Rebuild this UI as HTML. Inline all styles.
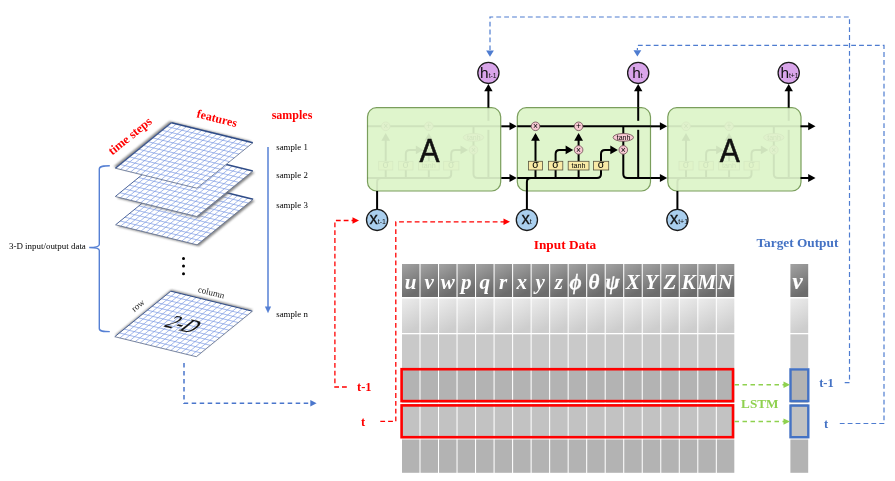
<!DOCTYPE html>
<html><head><meta charset="utf-8"><style>
html,body{margin:0;padding:0;background:#fff;width:895px;height:481px;overflow:hidden}
svg{display:block;will-change:transform}
</style></head><body>
<svg width="895" height="481" viewBox="0 0 895 481">
<defs>
<linearGradient id="hdr" x1="0" y1="0" x2="0.3" y2="1">
 <stop offset="0" stop-color="#a3a3a3"/><stop offset="1" stop-color="#6c6c6c"/></linearGradient>
<linearGradient id="r1" x1="0" y1="0" x2="0.3" y2="1">
 <stop offset="0" stop-color="#ececec"/><stop offset="1" stop-color="#cdcdcd"/></linearGradient>
<filter id="blur1" x="-20%" y="-20%" width="140%" height="140%"><feGaussianBlur stdDeviation="1.2"/></filter>
<g id="lstm">
 <rect x="0" y="0" width="133.2" height="83.3" rx="9" ry="9" fill="#dff5cc" stroke="#7fa35f" stroke-width="1.3"/>
</g>
</defs>
<polygon points="114.80,336.70 196.30,356.70 252.30,311.20 170.80,291.20" fill="#707070" opacity="0.85" filter="url(#blur1)" transform="translate(0.3,-1.5)"/>
<polygon points="114.80,336.70 196.30,356.70 252.30,311.20 170.80,291.20" fill="#ffffff"/>
<path d="M119.89 337.95L175.89 292.45M124.99 339.20L180.99 293.70M130.08 340.45L186.08 294.95M135.18 341.70L191.18 296.20M140.27 342.95L196.27 297.45M145.36 344.20L201.36 298.70M150.46 345.45L206.46 299.95M155.55 346.70L211.55 301.20M160.64 347.95L216.64 302.45M165.74 349.20L221.74 303.70M170.83 350.45L226.83 304.95M175.93 351.70L231.93 306.20M181.02 352.95L237.02 307.45M186.11 354.20L242.11 308.70M191.21 355.45L247.21 309.95M119.47 332.91L200.97 352.91M124.13 329.12L205.63 349.12M128.80 325.32L210.30 345.32M133.47 321.53L214.97 341.53M138.13 317.74L219.63 337.74M142.80 313.95L224.30 333.95M147.47 310.16L228.97 330.16M152.13 306.37L233.63 326.37M156.80 302.57L238.30 322.57M161.47 298.78L242.97 318.78M166.13 294.99L247.63 314.99" stroke="#7b9ae3" stroke-width="0.7" fill="none"/>
<polyline points="114.80,336.70 170.80,291.20" fill="none" stroke="#3a5590" stroke-width="0.9"/>
<polyline points="170.80,291.20 252.30,311.20" fill="none" stroke="#2f4c88" stroke-width="1.0"/>
<polyline points="252.30,311.20 196.30,356.70 114.80,336.70" fill="none" stroke="#5a6a8a" stroke-width="0.8"/>
<polygon points="115.60,224.80 197.10,244.80 253.10,199.30 171.60,179.30" fill="#707070" opacity="0.85" filter="url(#blur1)" transform="translate(1.8,1.4)"/>
<polygon points="115.60,224.80 197.10,244.80 253.10,199.30 171.60,179.30" fill="#ffffff"/>
<path d="M120.69 226.05L176.69 180.55M125.79 227.30L181.79 181.80M130.88 228.55L186.88 183.05M135.97 229.80L191.97 184.30M141.07 231.05L197.07 185.55M146.16 232.30L202.16 186.80M151.26 233.55L207.26 188.05M156.35 234.80L212.35 189.30M161.44 236.05L217.44 190.55M166.54 237.30L222.54 191.80M171.63 238.55L227.63 193.05M176.72 239.80L232.72 194.30M181.82 241.05L237.82 195.55M186.91 242.30L242.91 196.80M192.01 243.55L248.01 198.05M120.27 221.01L201.77 241.01M124.93 217.22L206.43 237.22M129.60 213.43L211.10 233.43M134.27 209.63L215.77 229.63M138.93 205.84L220.43 225.84M143.60 202.05L225.10 222.05M148.27 198.26L229.77 218.26M152.93 194.47L234.43 214.47M157.60 190.68L239.10 210.68M162.27 186.88L243.77 206.88M166.93 183.09L248.43 203.09" stroke="#7b9ae3" stroke-width="0.7" fill="none"/>
<polyline points="115.60,224.80 171.60,179.30" fill="none" stroke="#3a5590" stroke-width="0.9"/>
<polyline points="171.60,179.30 253.10,199.30" fill="none" stroke="#2f4c88" stroke-width="1.4"/>
<polyline points="253.10,199.30 197.10,244.80 115.60,224.80" fill="none" stroke="#5a6a8a" stroke-width="0.8"/>
<polygon points="115.30,196.50 196.80,216.50 252.80,171.00 171.30,151.00" fill="#707070" opacity="0.85" filter="url(#blur1)" transform="translate(1.8,1.4)"/>
<polygon points="115.30,196.50 196.80,216.50 252.80,171.00 171.30,151.00" fill="#ffffff"/>
<path d="M120.39 197.75L176.39 152.25M125.49 199.00L181.49 153.50M130.58 200.25L186.58 154.75M135.68 201.50L191.68 156.00M140.77 202.75L196.77 157.25M145.86 204.00L201.86 158.50M150.96 205.25L206.96 159.75M156.05 206.50L212.05 161.00M161.14 207.75L217.14 162.25M166.24 209.00L222.24 163.50M171.33 210.25L227.33 164.75M176.43 211.50L232.43 166.00M181.52 212.75L237.52 167.25M186.61 214.00L242.61 168.50M191.71 215.25L247.71 169.75M119.97 192.71L201.47 212.71M124.63 188.92L206.13 208.92M129.30 185.12L210.80 205.12M133.97 181.33L215.47 201.33M138.63 177.54L220.13 197.54M143.30 173.75L224.80 193.75M147.97 169.96L229.47 189.96M152.63 166.17L234.13 186.17M157.30 162.38L238.80 182.38M161.97 158.58L243.47 178.58M166.63 154.79L248.13 174.79" stroke="#7b9ae3" stroke-width="0.7" fill="none"/>
<polyline points="115.30,196.50 171.30,151.00" fill="none" stroke="#3a5590" stroke-width="0.9"/>
<polyline points="171.30,151.00 252.80,171.00" fill="none" stroke="#2f4c88" stroke-width="1.4"/>
<polyline points="252.80,171.00 196.80,216.50 115.30,196.50" fill="none" stroke="#5a6a8a" stroke-width="0.8"/>
<polygon points="115.40,168.20 196.90,188.20 252.90,142.70 171.40,122.70" fill="#707070" opacity="0.85" filter="url(#blur1)" transform="translate(-1.8,-1.4)"/>
<polygon points="115.40,168.20 196.90,188.20 252.90,142.70 171.40,122.70" fill="#ffffff"/>
<path d="M120.49 169.45L176.49 123.95M125.59 170.70L181.59 125.20M130.68 171.95L186.68 126.45M135.78 173.20L191.78 127.70M140.87 174.45L196.87 128.95M145.96 175.70L201.96 130.20M151.06 176.95L207.06 131.45M156.15 178.20L212.15 132.70M161.24 179.45L217.24 133.95M166.34 180.70L222.34 135.20M171.43 181.95L227.43 136.45M176.53 183.20L232.53 137.70M181.62 184.45L237.62 138.95M186.71 185.70L242.71 140.20M191.81 186.95L247.81 141.45M120.07 164.41L201.57 184.41M124.73 160.62L206.23 180.62M129.40 156.82L210.90 176.82M134.07 153.03L215.57 173.03M138.73 149.24L220.23 169.24M143.40 145.45L224.90 165.45M148.07 141.66L229.57 161.66M152.73 137.87L234.23 157.87M157.40 134.07L238.90 154.07M162.07 130.28L243.57 150.28M166.73 126.49L248.23 146.49" stroke="#7b9ae3" stroke-width="0.7" fill="none"/>
<polyline points="115.40,168.20 171.40,122.70" fill="none" stroke="#3a5590" stroke-width="1.2"/>
<polyline points="171.40,122.70 252.90,142.70" fill="none" stroke="#2f4c88" stroke-width="1.4"/>
<polyline points="252.90,142.70 196.90,188.20 115.40,168.20" fill="none" stroke="#5a6a8a" stroke-width="0.8"/>
<circle cx="183.5" cy="258.5" r="1.5" fill="#000"/>
<circle cx="183.5" cy="266.0" r="1.5" fill="#000"/>
<circle cx="183.5" cy="273.7" r="1.5" fill="#000"/>
<text transform="matrix(0.796 0.195 -0.869 0.707 162.80 326.20)" font-family='"Liberation Serif", serif' font-size="23" fill="#111" stroke="#111" stroke-width="0.2">2-D</text>
<text transform="translate(138,305.4) rotate(-40)" text-anchor="middle" dominant-baseline="central" font-family='"Liberation Serif", serif' font-size="9" fill="#222">row</text>
<text transform="translate(211.2,292.4) rotate(14)" text-anchor="middle" dominant-baseline="central" font-family='"Liberation Serif", serif' font-size="9" fill="#222">column</text>
<text transform="translate(130,136) rotate(-39)" text-anchor="middle" dominant-baseline="central" font-family='"Liberation Serif", serif' font-weight="bold" font-size="12.3" fill="#ff0000">time steps</text>
<text transform="translate(217,118.4) rotate(14)" text-anchor="middle" dominant-baseline="central" font-family='"Liberation Serif", serif' font-weight="bold" font-size="12" fill="#ff0000">features</text>
<text x="292" y="118.5" text-anchor="middle" font-family='"Liberation Serif", serif' font-weight="bold" font-size="12" fill="#ff0000">samples</text>
<text x="276.3" y="150.3" font-family='"Liberation Serif", serif' font-size="8.8" fill="#000">sample 1</text>
<text x="276.3" y="178.0" font-family='"Liberation Serif", serif' font-size="8.8" fill="#000">sample 2</text>
<text x="276.3" y="208.0" font-family='"Liberation Serif", serif' font-size="8.8" fill="#000">sample 3</text>
<text x="276.3" y="316.8" font-family='"Liberation Serif", serif' font-size="8.8" fill="#000">sample n</text>
<text x="9" y="248.6" font-family='"Liberation Serif", serif' font-size="8.93" fill="#000">3-D input/output data</text>
<path d="M268 147 L268 307" stroke="#5680d4" stroke-width="1.5" fill="none"/>
<polygon points="264.9,306.5 271.1,306.5 268,313.2" fill="#5680d4"/>
<path d="M109.8 165.8 C104 165.8 99.3 165.8 99.3 169 L99.3 244.5 C99.3 247 95 247.5 89.2 247.5 C95 247.5 99.3 248 99.3 250.5 L99.3 328.5 C99.3 331.6 104 331.6 109.8 331.6" stroke="#5680d4" stroke-width="1.4" fill="none"/>
<path d="M184 363 L184 403.3 L310.5 403.3" stroke="#4a76cc" stroke-width="1.5" fill="none" stroke-dasharray="4.5 3.5"/>
<polygon points="310.3,400.1 310.3,406.5 316.6,403.3" fill="#4a76cc"/>
<rect x="367.50" y="107.70" width="133.2" height="83.3" rx="9" ry="9" fill="#dff5cc" stroke="#7a9e5c" stroke-width="1.2"/>
<g opacity="0.07">
<path d="M367.50 178.00 L447.20 178.00 Q451.20 178.00 451.20 174.00 L451.20 170.00" stroke="#000" stroke-width="2.0" fill="none"/>
<path d="M377.10 191.00 L377.10 182.00 Q377.10 178.00 381.10 178.00" stroke="#000" stroke-width="2.0" fill="none"/>
<path d="M385.70 178.00 L385.70 170.00" stroke="#000" stroke-width="2.0" fill="none"/>
<path d="M405.80 178.00 L405.80 170.00" stroke="#000" stroke-width="2.0" fill="none"/>
<path d="M428.80 178.00 L428.80 170.00" stroke="#000" stroke-width="2.0" fill="none"/>
<path d="M385.70 161.30 L385.70 135.30" stroke="#000" stroke-width="2.0" fill="none"/>
<polygon points="385.70,133.10 381.30,140.70 390.10,140.70" fill="#000"/>
<path d="M405.80 161.30 L405.80 153.90 Q405.80 149.90 409.80 149.90 L418.80 149.90" stroke="#000" stroke-width="2.0" fill="none"/>
<polygon points="423.40,149.90 415.80,145.50 415.80,154.30" fill="#000"/>
<path d="M428.80 161.30 L428.80 149.90" stroke="#000" stroke-width="2.0" fill="none"/>
<path d="M428.80 149.90 L428.80 135.30" stroke="#000" stroke-width="2.0" fill="none"/>
<polygon points="428.80,133.10 424.40,140.70 433.20,140.70" fill="#000"/>
<path d="M451.20 161.30 L451.20 153.90 Q451.20 149.90 455.20 149.90 L463.50 149.90" stroke="#000" stroke-width="2.0" fill="none"/>
<polygon points="468.10,149.90 460.50,145.50 460.50,154.30" fill="#000"/>
<path d="M473.50 126.30 L473.50 149.90" stroke="#000" stroke-width="2.0" fill="none"/>
<path d="M473.50 149.90 L473.50 174.00 Q473.50 178.00 477.50 178.00 L500.70 178.00" stroke="#000" stroke-width="2.0" fill="none"/>
<path d="M488.40 178.00 L488.40 129.80" stroke="#000" stroke-width="2.0" fill="none"/>
<path d="M488.40 120.80 L488.40 107.70" stroke="#000" stroke-width="2.0" fill="none"/>
<path d="M367.50 126.30 L500.70 126.30" stroke="#000" stroke-width="2.0" fill="none"/>
<rect x="378.70" y="161.30" width="14.10" height="8.70" fill="#f9eaa6" stroke="#5a5540" stroke-width="0.8"/>
<text x="385.75" y="168.10" text-anchor="middle" font-family='"Liberation Sans", sans-serif' font-size="10.5" fill="#000">σ</text>
<rect x="398.60" y="161.30" width="14.40" height="8.70" fill="#f9eaa6" stroke="#5a5540" stroke-width="0.8"/>
<text x="405.80" y="168.10" text-anchor="middle" font-family='"Liberation Sans", sans-serif' font-size="10.5" fill="#000">σ</text>
<rect x="418.40" y="161.30" width="20.80" height="8.70" fill="#f9eaa6" stroke="#5a5540" stroke-width="0.8"/>
<text x="428.80" y="168.10" text-anchor="middle" font-family='"Liberation Sans", sans-serif' font-size="7.2" fill="#000">tanh</text>
<rect x="443.70" y="161.30" width="15.20" height="8.70" fill="#f9eaa6" stroke="#5a5540" stroke-width="0.8"/>
<text x="451.30" y="168.10" text-anchor="middle" font-family='"Liberation Sans", sans-serif' font-size="10.5" fill="#000">σ</text>
<circle cx="385.70" cy="126.30" r="4.3" fill="#f7c9d3" stroke="#6a4a50" stroke-width="0.8"/>
<text x="385.70" y="129.30" text-anchor="middle" font-family='"Liberation Sans", sans-serif' font-size="8.5" fill="#000">×</text>
<circle cx="428.80" cy="126.30" r="4.3" fill="#f7c9d3" stroke="#6a4a50" stroke-width="0.8"/>
<text x="428.80" y="129.30" text-anchor="middle" font-family='"Liberation Sans", sans-serif' font-size="8.5" fill="#000">+</text>
<circle cx="428.80" cy="149.90" r="4.3" fill="#f7c9d3" stroke="#6a4a50" stroke-width="0.8"/>
<text x="428.80" y="152.90" text-anchor="middle" font-family='"Liberation Sans", sans-serif' font-size="8.5" fill="#000">×</text>
<circle cx="473.50" cy="149.90" r="4.3" fill="#f7c9d3" stroke="#6a4a50" stroke-width="0.8"/>
<text x="473.50" y="152.90" text-anchor="middle" font-family='"Liberation Sans", sans-serif' font-size="8.5" fill="#000">×</text>
<ellipse cx="473.50" cy="137.40" rx="10.2" ry="3.9" fill="#f7c9d3" stroke="#6a4a50" stroke-width="0.8"/>
<text x="473.80" y="139.80" text-anchor="middle" font-family='"Liberation Sans", sans-serif' font-size="7" fill="#000">tanh</text>
</g>
<text transform="translate(429.50,162) scale(1,1.09)" text-anchor="middle" font-family='"Liberation Sans", sans-serif' font-size="30" fill="#111" stroke="#111" stroke-width="0.5">A</text>
<rect x="517.30" y="107.70" width="133.2" height="83.3" rx="9" ry="9" fill="#dff5cc" stroke="#7a9e5c" stroke-width="1.2"/>
<g opacity="1">
<path d="M517.30 178.00 L597.00 178.00 Q601.00 178.00 601.00 174.00 L601.00 170.00" stroke="#000" stroke-width="2.0" fill="none"/>
<path d="M526.90 191.00 L526.90 182.00 Q526.90 178.00 530.90 178.00" stroke="#000" stroke-width="2.0" fill="none"/>
<path d="M535.50 178.00 L535.50 170.00" stroke="#000" stroke-width="2.0" fill="none"/>
<path d="M555.60 178.00 L555.60 170.00" stroke="#000" stroke-width="2.0" fill="none"/>
<path d="M578.60 178.00 L578.60 170.00" stroke="#000" stroke-width="2.0" fill="none"/>
<path d="M535.50 161.30 L535.50 135.30" stroke="#000" stroke-width="2.0" fill="none"/>
<polygon points="535.50,133.10 531.10,140.70 539.90,140.70" fill="#000"/>
<path d="M555.60 161.30 L555.60 153.90 Q555.60 149.90 559.60 149.90 L568.60 149.90" stroke="#000" stroke-width="2.0" fill="none"/>
<polygon points="573.20,149.90 565.60,145.50 565.60,154.30" fill="#000"/>
<path d="M578.60 161.30 L578.60 149.90" stroke="#000" stroke-width="2.0" fill="none"/>
<path d="M578.60 149.90 L578.60 135.30" stroke="#000" stroke-width="2.0" fill="none"/>
<polygon points="578.60,133.10 574.20,140.70 583.00,140.70" fill="#000"/>
<path d="M601.00 161.30 L601.00 153.90 Q601.00 149.90 605.00 149.90 L613.30 149.90" stroke="#000" stroke-width="2.0" fill="none"/>
<polygon points="617.90,149.90 610.30,145.50 610.30,154.30" fill="#000"/>
<path d="M623.30 126.30 L623.30 149.90" stroke="#000" stroke-width="2.0" fill="none"/>
<path d="M623.30 149.90 L623.30 174.00 Q623.30 178.00 627.30 178.00 L650.50 178.00" stroke="#000" stroke-width="2.0" fill="none"/>
<path d="M638.20 178.00 L638.20 129.80" stroke="#000" stroke-width="2.0" fill="none"/>
<path d="M638.20 120.80 L638.20 107.70" stroke="#000" stroke-width="2.0" fill="none"/>
<path d="M517.30 126.30 L650.50 126.30" stroke="#000" stroke-width="2.0" fill="none"/>
<rect x="528.50" y="161.30" width="14.10" height="8.70" fill="#f9eaa6" stroke="#5a5540" stroke-width="0.8"/>
<text x="535.55" y="168.10" text-anchor="middle" font-family='"Liberation Sans", sans-serif' font-size="10.5" fill="#000">σ</text>
<rect x="548.40" y="161.30" width="14.40" height="8.70" fill="#f9eaa6" stroke="#5a5540" stroke-width="0.8"/>
<text x="555.60" y="168.10" text-anchor="middle" font-family='"Liberation Sans", sans-serif' font-size="10.5" fill="#000">σ</text>
<rect x="568.20" y="161.30" width="20.80" height="8.70" fill="#f9eaa6" stroke="#5a5540" stroke-width="0.8"/>
<text x="578.60" y="168.10" text-anchor="middle" font-family='"Liberation Sans", sans-serif' font-size="7.2" fill="#000">tanh</text>
<rect x="593.50" y="161.30" width="15.20" height="8.70" fill="#f9eaa6" stroke="#5a5540" stroke-width="0.8"/>
<text x="601.10" y="168.10" text-anchor="middle" font-family='"Liberation Sans", sans-serif' font-size="10.5" fill="#000">σ</text>
<circle cx="535.50" cy="126.30" r="4.3" fill="#f7c9d3" stroke="#6a4a50" stroke-width="0.8"/>
<text x="535.50" y="129.30" text-anchor="middle" font-family='"Liberation Sans", sans-serif' font-size="8.5" fill="#000">×</text>
<circle cx="578.60" cy="126.30" r="4.3" fill="#f7c9d3" stroke="#6a4a50" stroke-width="0.8"/>
<text x="578.60" y="129.30" text-anchor="middle" font-family='"Liberation Sans", sans-serif' font-size="8.5" fill="#000">+</text>
<circle cx="578.60" cy="149.90" r="4.3" fill="#f7c9d3" stroke="#6a4a50" stroke-width="0.8"/>
<text x="578.60" y="152.90" text-anchor="middle" font-family='"Liberation Sans", sans-serif' font-size="8.5" fill="#000">×</text>
<circle cx="623.30" cy="149.90" r="4.3" fill="#f7c9d3" stroke="#6a4a50" stroke-width="0.8"/>
<text x="623.30" y="152.90" text-anchor="middle" font-family='"Liberation Sans", sans-serif' font-size="8.5" fill="#000">×</text>
<ellipse cx="623.30" cy="137.40" rx="10.2" ry="3.9" fill="#f7c9d3" stroke="#6a4a50" stroke-width="0.8"/>
<text x="623.60" y="139.80" text-anchor="middle" font-family='"Liberation Sans", sans-serif' font-size="7" fill="#000">tanh</text>
</g>
<rect x="667.80" y="107.70" width="133.2" height="83.3" rx="9" ry="9" fill="#dff5cc" stroke="#7a9e5c" stroke-width="1.2"/>
<g opacity="0.07">
<path d="M667.80 178.00 L747.50 178.00 Q751.50 178.00 751.50 174.00 L751.50 170.00" stroke="#000" stroke-width="2.0" fill="none"/>
<path d="M677.40 191.00 L677.40 182.00 Q677.40 178.00 681.40 178.00" stroke="#000" stroke-width="2.0" fill="none"/>
<path d="M686.00 178.00 L686.00 170.00" stroke="#000" stroke-width="2.0" fill="none"/>
<path d="M706.10 178.00 L706.10 170.00" stroke="#000" stroke-width="2.0" fill="none"/>
<path d="M729.10 178.00 L729.10 170.00" stroke="#000" stroke-width="2.0" fill="none"/>
<path d="M686.00 161.30 L686.00 135.30" stroke="#000" stroke-width="2.0" fill="none"/>
<polygon points="686.00,133.10 681.60,140.70 690.40,140.70" fill="#000"/>
<path d="M706.10 161.30 L706.10 153.90 Q706.10 149.90 710.10 149.90 L719.10 149.90" stroke="#000" stroke-width="2.0" fill="none"/>
<polygon points="723.70,149.90 716.10,145.50 716.10,154.30" fill="#000"/>
<path d="M729.10 161.30 L729.10 149.90" stroke="#000" stroke-width="2.0" fill="none"/>
<path d="M729.10 149.90 L729.10 135.30" stroke="#000" stroke-width="2.0" fill="none"/>
<polygon points="729.10,133.10 724.70,140.70 733.50,140.70" fill="#000"/>
<path d="M751.50 161.30 L751.50 153.90 Q751.50 149.90 755.50 149.90 L763.80 149.90" stroke="#000" stroke-width="2.0" fill="none"/>
<polygon points="768.40,149.90 760.80,145.50 760.80,154.30" fill="#000"/>
<path d="M773.80 126.30 L773.80 149.90" stroke="#000" stroke-width="2.0" fill="none"/>
<path d="M773.80 149.90 L773.80 174.00 Q773.80 178.00 777.80 178.00 L801.00 178.00" stroke="#000" stroke-width="2.0" fill="none"/>
<path d="M788.70 178.00 L788.70 129.80" stroke="#000" stroke-width="2.0" fill="none"/>
<path d="M788.70 120.80 L788.70 107.70" stroke="#000" stroke-width="2.0" fill="none"/>
<path d="M667.80 126.30 L801.00 126.30" stroke="#000" stroke-width="2.0" fill="none"/>
<rect x="679.00" y="161.30" width="14.10" height="8.70" fill="#f9eaa6" stroke="#5a5540" stroke-width="0.8"/>
<text x="686.05" y="168.10" text-anchor="middle" font-family='"Liberation Sans", sans-serif' font-size="10.5" fill="#000">σ</text>
<rect x="698.90" y="161.30" width="14.40" height="8.70" fill="#f9eaa6" stroke="#5a5540" stroke-width="0.8"/>
<text x="706.10" y="168.10" text-anchor="middle" font-family='"Liberation Sans", sans-serif' font-size="10.5" fill="#000">σ</text>
<rect x="718.70" y="161.30" width="20.80" height="8.70" fill="#f9eaa6" stroke="#5a5540" stroke-width="0.8"/>
<text x="729.10" y="168.10" text-anchor="middle" font-family='"Liberation Sans", sans-serif' font-size="7.2" fill="#000">tanh</text>
<rect x="744.00" y="161.30" width="15.20" height="8.70" fill="#f9eaa6" stroke="#5a5540" stroke-width="0.8"/>
<text x="751.60" y="168.10" text-anchor="middle" font-family='"Liberation Sans", sans-serif' font-size="10.5" fill="#000">σ</text>
<circle cx="686.00" cy="126.30" r="4.3" fill="#f7c9d3" stroke="#6a4a50" stroke-width="0.8"/>
<text x="686.00" y="129.30" text-anchor="middle" font-family='"Liberation Sans", sans-serif' font-size="8.5" fill="#000">×</text>
<circle cx="729.10" cy="126.30" r="4.3" fill="#f7c9d3" stroke="#6a4a50" stroke-width="0.8"/>
<text x="729.10" y="129.30" text-anchor="middle" font-family='"Liberation Sans", sans-serif' font-size="8.5" fill="#000">+</text>
<circle cx="729.10" cy="149.90" r="4.3" fill="#f7c9d3" stroke="#6a4a50" stroke-width="0.8"/>
<text x="729.10" y="152.90" text-anchor="middle" font-family='"Liberation Sans", sans-serif' font-size="8.5" fill="#000">×</text>
<circle cx="773.80" cy="149.90" r="4.3" fill="#f7c9d3" stroke="#6a4a50" stroke-width="0.8"/>
<text x="773.80" y="152.90" text-anchor="middle" font-family='"Liberation Sans", sans-serif' font-size="8.5" fill="#000">×</text>
<ellipse cx="773.80" cy="137.40" rx="10.2" ry="3.9" fill="#f7c9d3" stroke="#6a4a50" stroke-width="0.8"/>
<text x="774.10" y="139.80" text-anchor="middle" font-family='"Liberation Sans", sans-serif' font-size="7" fill="#000">tanh</text>
</g>
<text transform="translate(729.80,162) scale(1,1.09)" text-anchor="middle" font-family='"Liberation Sans", sans-serif' font-size="30" fill="#111" stroke="#111" stroke-width="0.5">A</text>
<path d="M501.30 126.30 L511.80 126.30" stroke="#000" stroke-width="2" fill="none"/>
<polygon points="516.80,126.30 509.50,122.30 509.50,130.30" fill="#000"/>
<path d="M501.30 178.00 L511.80 178.00" stroke="#000" stroke-width="2" fill="none"/>
<polygon points="516.80,178.00 509.50,174.00 509.50,182.00" fill="#000"/>
<path d="M650.50 126.30 L662.20 126.30" stroke="#000" stroke-width="2" fill="none"/>
<polygon points="667.20,126.30 659.90,122.30 659.90,130.30" fill="#000"/>
<path d="M650.50 178.00 L662.20 178.00" stroke="#000" stroke-width="2" fill="none"/>
<polygon points="667.20,178.00 659.90,174.00 659.90,182.00" fill="#000"/>
<path d="M800.50 126.30 L810.50 126.30" stroke="#000" stroke-width="2" fill="none"/>
<polygon points="815.50,126.30 808.20,122.30 808.20,130.30" fill="#000"/>
<path d="M800.50 178.00 L810.50 178.00" stroke="#000" stroke-width="2" fill="none"/>
<polygon points="815.50,178.00 808.20,174.00 808.20,182.00" fill="#000"/>
<path d="M488.40 107.70 L488.40 89.00" stroke="#000" stroke-width="2" fill="none"/>
<polygon points="488.40,84.00 484.20,91.30 492.60,91.30" fill="#000"/>
<path d="M377.10 191 L377.10 209.5" stroke="#000" stroke-width="2"/>
<path d="M638.20 107.70 L638.20 89.00" stroke="#000" stroke-width="2" fill="none"/>
<polygon points="638.20,84.00 634.00,91.30 642.40,91.30" fill="#000"/>
<path d="M526.90 191 L526.90 209.5" stroke="#000" stroke-width="2"/>
<path d="M788.70 107.70 L788.70 89.00" stroke="#000" stroke-width="2" fill="none"/>
<polygon points="788.70,84.00 784.50,91.30 792.90,91.30" fill="#000"/>
<path d="M677.40 191 L677.40 209.5" stroke="#000" stroke-width="2"/>
<circle cx="488.40" cy="72.9" r="10.6" fill="#d9a5ea" stroke="#1a1a1a" stroke-width="1.3"/>
<text x="480.10" y="78.2" font-family='"Liberation Sans", sans-serif' font-size="15.4" fill="#111">h<tspan font-size="6.8" dy="0">t-1</tspan></text>
<circle cx="377.10" cy="219.9" r="10.6" fill="#aacfee" stroke="#1a1a1a" stroke-width="1.3"/>
<text x="369.60" y="224.3" font-family='"Liberation Sans", sans-serif' font-size="16.5" fill="#111" stroke="#111" stroke-width="0.3">x<tspan stroke-width="0" font-size="7" dy="0">t-1</tspan></text>
<circle cx="638.20" cy="72.9" r="10.6" fill="#d9a5ea" stroke="#1a1a1a" stroke-width="1.3"/>
<text x="632.20" y="78.2" font-family='"Liberation Sans", sans-serif' font-size="15.4" fill="#111">h<tspan font-size="6.8" dy="0">t</tspan></text>
<circle cx="526.90" cy="219.9" r="10.6" fill="#aacfee" stroke="#1a1a1a" stroke-width="1.3"/>
<text x="521.40" y="224.3" font-family='"Liberation Sans", sans-serif' font-size="16.5" fill="#111" stroke="#111" stroke-width="0.3">x<tspan stroke-width="0" font-size="7" dy="0">t</tspan></text>
<circle cx="788.70" cy="72.9" r="10.6" fill="#d9a5ea" stroke="#1a1a1a" stroke-width="1.3"/>
<text x="780.40" y="78.2" font-family='"Liberation Sans", sans-serif' font-size="15.4" fill="#111">h<tspan font-size="6.8" dy="0">t+1</tspan></text>
<circle cx="677.40" cy="219.9" r="10.6" fill="#aacfee" stroke="#1a1a1a" stroke-width="1.3"/>
<text x="669.90" y="224.3" font-family='"Liberation Sans", sans-serif' font-size="16.5" fill="#111" stroke="#111" stroke-width="0.3">x<tspan stroke-width="0" font-size="7" dy="0">t+1</tspan></text>
<rect x="402.00" y="264.00" width="17.47" height="33.00" fill="url(#hdr)"/>
<rect x="420.52" y="264.00" width="17.47" height="33.00" fill="url(#hdr)"/>
<rect x="439.04" y="264.00" width="17.47" height="33.00" fill="url(#hdr)"/>
<rect x="457.56" y="264.00" width="17.47" height="33.00" fill="url(#hdr)"/>
<rect x="476.08" y="264.00" width="17.47" height="33.00" fill="url(#hdr)"/>
<rect x="494.60" y="264.00" width="17.47" height="33.00" fill="url(#hdr)"/>
<rect x="513.12" y="264.00" width="17.47" height="33.00" fill="url(#hdr)"/>
<rect x="531.64" y="264.00" width="17.47" height="33.00" fill="url(#hdr)"/>
<rect x="550.16" y="264.00" width="17.47" height="33.00" fill="url(#hdr)"/>
<rect x="568.68" y="264.00" width="17.47" height="33.00" fill="url(#hdr)"/>
<rect x="587.20" y="264.00" width="17.47" height="33.00" fill="url(#hdr)"/>
<rect x="605.72" y="264.00" width="17.47" height="33.00" fill="url(#hdr)"/>
<rect x="624.24" y="264.00" width="17.47" height="33.00" fill="url(#hdr)"/>
<rect x="642.76" y="264.00" width="17.47" height="33.00" fill="url(#hdr)"/>
<rect x="661.28" y="264.00" width="17.47" height="33.00" fill="url(#hdr)"/>
<rect x="679.80" y="264.00" width="17.47" height="33.00" fill="url(#hdr)"/>
<rect x="698.32" y="264.00" width="17.47" height="33.00" fill="url(#hdr)"/>
<rect x="716.84" y="264.00" width="17.47" height="33.00" fill="url(#hdr)"/>
<rect x="402.00" y="298.50" width="17.47" height="34.50" fill="url(#r1)"/>
<rect x="420.52" y="298.50" width="17.47" height="34.50" fill="url(#r1)"/>
<rect x="439.04" y="298.50" width="17.47" height="34.50" fill="url(#r1)"/>
<rect x="457.56" y="298.50" width="17.47" height="34.50" fill="url(#r1)"/>
<rect x="476.08" y="298.50" width="17.47" height="34.50" fill="url(#r1)"/>
<rect x="494.60" y="298.50" width="17.47" height="34.50" fill="url(#r1)"/>
<rect x="513.12" y="298.50" width="17.47" height="34.50" fill="url(#r1)"/>
<rect x="531.64" y="298.50" width="17.47" height="34.50" fill="url(#r1)"/>
<rect x="550.16" y="298.50" width="17.47" height="34.50" fill="url(#r1)"/>
<rect x="568.68" y="298.50" width="17.47" height="34.50" fill="url(#r1)"/>
<rect x="587.20" y="298.50" width="17.47" height="34.50" fill="url(#r1)"/>
<rect x="605.72" y="298.50" width="17.47" height="34.50" fill="url(#r1)"/>
<rect x="624.24" y="298.50" width="17.47" height="34.50" fill="url(#r1)"/>
<rect x="642.76" y="298.50" width="17.47" height="34.50" fill="url(#r1)"/>
<rect x="661.28" y="298.50" width="17.47" height="34.50" fill="url(#r1)"/>
<rect x="679.80" y="298.50" width="17.47" height="34.50" fill="url(#r1)"/>
<rect x="698.32" y="298.50" width="17.47" height="34.50" fill="url(#r1)"/>
<rect x="716.84" y="298.50" width="17.47" height="34.50" fill="url(#r1)"/>
<rect x="402.00" y="334.30" width="17.47" height="34.00" fill="#c9c9c9"/>
<rect x="420.52" y="334.30" width="17.47" height="34.00" fill="#c9c9c9"/>
<rect x="439.04" y="334.30" width="17.47" height="34.00" fill="#c9c9c9"/>
<rect x="457.56" y="334.30" width="17.47" height="34.00" fill="#c9c9c9"/>
<rect x="476.08" y="334.30" width="17.47" height="34.00" fill="#c9c9c9"/>
<rect x="494.60" y="334.30" width="17.47" height="34.00" fill="#c9c9c9"/>
<rect x="513.12" y="334.30" width="17.47" height="34.00" fill="#c9c9c9"/>
<rect x="531.64" y="334.30" width="17.47" height="34.00" fill="#c9c9c9"/>
<rect x="550.16" y="334.30" width="17.47" height="34.00" fill="#c9c9c9"/>
<rect x="568.68" y="334.30" width="17.47" height="34.00" fill="#c9c9c9"/>
<rect x="587.20" y="334.30" width="17.47" height="34.00" fill="#c9c9c9"/>
<rect x="605.72" y="334.30" width="17.47" height="34.00" fill="#c9c9c9"/>
<rect x="624.24" y="334.30" width="17.47" height="34.00" fill="#c9c9c9"/>
<rect x="642.76" y="334.30" width="17.47" height="34.00" fill="#c9c9c9"/>
<rect x="661.28" y="334.30" width="17.47" height="34.00" fill="#c9c9c9"/>
<rect x="679.80" y="334.30" width="17.47" height="34.00" fill="#c9c9c9"/>
<rect x="698.32" y="334.30" width="17.47" height="34.00" fill="#c9c9c9"/>
<rect x="716.84" y="334.30" width="17.47" height="34.00" fill="#c9c9c9"/>
<rect x="402.00" y="369.00" width="17.47" height="33.60" fill="#b3b3b3"/>
<rect x="420.52" y="369.00" width="17.47" height="33.60" fill="#b3b3b3"/>
<rect x="439.04" y="369.00" width="17.47" height="33.60" fill="#b3b3b3"/>
<rect x="457.56" y="369.00" width="17.47" height="33.60" fill="#b3b3b3"/>
<rect x="476.08" y="369.00" width="17.47" height="33.60" fill="#b3b3b3"/>
<rect x="494.60" y="369.00" width="17.47" height="33.60" fill="#b3b3b3"/>
<rect x="513.12" y="369.00" width="17.47" height="33.60" fill="#b3b3b3"/>
<rect x="531.64" y="369.00" width="17.47" height="33.60" fill="#b3b3b3"/>
<rect x="550.16" y="369.00" width="17.47" height="33.60" fill="#b3b3b3"/>
<rect x="568.68" y="369.00" width="17.47" height="33.60" fill="#b3b3b3"/>
<rect x="587.20" y="369.00" width="17.47" height="33.60" fill="#b3b3b3"/>
<rect x="605.72" y="369.00" width="17.47" height="33.60" fill="#b3b3b3"/>
<rect x="624.24" y="369.00" width="17.47" height="33.60" fill="#b3b3b3"/>
<rect x="642.76" y="369.00" width="17.47" height="33.60" fill="#b3b3b3"/>
<rect x="661.28" y="369.00" width="17.47" height="33.60" fill="#b3b3b3"/>
<rect x="679.80" y="369.00" width="17.47" height="33.60" fill="#b3b3b3"/>
<rect x="698.32" y="369.00" width="17.47" height="33.60" fill="#b3b3b3"/>
<rect x="716.84" y="369.00" width="17.47" height="33.60" fill="#b3b3b3"/>
<rect x="402.00" y="404.00" width="17.47" height="34.30" fill="#c2c2c2"/>
<rect x="420.52" y="404.00" width="17.47" height="34.30" fill="#c2c2c2"/>
<rect x="439.04" y="404.00" width="17.47" height="34.30" fill="#c2c2c2"/>
<rect x="457.56" y="404.00" width="17.47" height="34.30" fill="#c2c2c2"/>
<rect x="476.08" y="404.00" width="17.47" height="34.30" fill="#c2c2c2"/>
<rect x="494.60" y="404.00" width="17.47" height="34.30" fill="#c2c2c2"/>
<rect x="513.12" y="404.00" width="17.47" height="34.30" fill="#c2c2c2"/>
<rect x="531.64" y="404.00" width="17.47" height="34.30" fill="#c2c2c2"/>
<rect x="550.16" y="404.00" width="17.47" height="34.30" fill="#c2c2c2"/>
<rect x="568.68" y="404.00" width="17.47" height="34.30" fill="#c2c2c2"/>
<rect x="587.20" y="404.00" width="17.47" height="34.30" fill="#c2c2c2"/>
<rect x="605.72" y="404.00" width="17.47" height="34.30" fill="#c2c2c2"/>
<rect x="624.24" y="404.00" width="17.47" height="34.30" fill="#c2c2c2"/>
<rect x="642.76" y="404.00" width="17.47" height="34.30" fill="#c2c2c2"/>
<rect x="661.28" y="404.00" width="17.47" height="34.30" fill="#c2c2c2"/>
<rect x="679.80" y="404.00" width="17.47" height="34.30" fill="#c2c2c2"/>
<rect x="698.32" y="404.00" width="17.47" height="34.30" fill="#c2c2c2"/>
<rect x="716.84" y="404.00" width="17.47" height="34.30" fill="#c2c2c2"/>
<rect x="402.00" y="439.50" width="17.47" height="33.30" fill="#b3b3b3"/>
<rect x="420.52" y="439.50" width="17.47" height="33.30" fill="#b3b3b3"/>
<rect x="439.04" y="439.50" width="17.47" height="33.30" fill="#b3b3b3"/>
<rect x="457.56" y="439.50" width="17.47" height="33.30" fill="#b3b3b3"/>
<rect x="476.08" y="439.50" width="17.47" height="33.30" fill="#b3b3b3"/>
<rect x="494.60" y="439.50" width="17.47" height="33.30" fill="#b3b3b3"/>
<rect x="513.12" y="439.50" width="17.47" height="33.30" fill="#b3b3b3"/>
<rect x="531.64" y="439.50" width="17.47" height="33.30" fill="#b3b3b3"/>
<rect x="550.16" y="439.50" width="17.47" height="33.30" fill="#b3b3b3"/>
<rect x="568.68" y="439.50" width="17.47" height="33.30" fill="#b3b3b3"/>
<rect x="587.20" y="439.50" width="17.47" height="33.30" fill="#b3b3b3"/>
<rect x="605.72" y="439.50" width="17.47" height="33.30" fill="#b3b3b3"/>
<rect x="624.24" y="439.50" width="17.47" height="33.30" fill="#b3b3b3"/>
<rect x="642.76" y="439.50" width="17.47" height="33.30" fill="#b3b3b3"/>
<rect x="661.28" y="439.50" width="17.47" height="33.30" fill="#b3b3b3"/>
<rect x="679.80" y="439.50" width="17.47" height="33.30" fill="#b3b3b3"/>
<rect x="698.32" y="439.50" width="17.47" height="33.30" fill="#b3b3b3"/>
<rect x="716.84" y="439.50" width="17.47" height="33.30" fill="#b3b3b3"/>
<text x="410.61" y="288.8" text-anchor="middle" font-family='"Liberation Serif", serif' font-weight="bold" font-style="italic" font-size="21" fill="#fff">u</text>
<text x="429.13" y="288.8" text-anchor="middle" font-family='"Liberation Serif", serif' font-weight="bold" font-style="italic" font-size="21" fill="#fff">v</text>
<text x="447.65" y="288.8" text-anchor="middle" font-family='"Liberation Serif", serif' font-weight="bold" font-style="italic" font-size="21" fill="#fff">w</text>
<text x="466.17" y="288.8" text-anchor="middle" font-family='"Liberation Serif", serif' font-weight="bold" font-style="italic" font-size="21" fill="#fff">p</text>
<text x="484.69" y="288.8" text-anchor="middle" font-family='"Liberation Serif", serif' font-weight="bold" font-style="italic" font-size="21" fill="#fff">q</text>
<text x="503.21" y="288.8" text-anchor="middle" font-family='"Liberation Serif", serif' font-weight="bold" font-style="italic" font-size="21" fill="#fff">r</text>
<text x="521.73" y="288.8" text-anchor="middle" font-family='"Liberation Serif", serif' font-weight="bold" font-style="italic" font-size="21" fill="#fff">x</text>
<text x="540.25" y="288.8" text-anchor="middle" font-family='"Liberation Serif", serif' font-weight="bold" font-style="italic" font-size="21" fill="#fff">y</text>
<text x="558.77" y="288.8" text-anchor="middle" font-family='"Liberation Serif", serif' font-weight="bold" font-style="italic" font-size="21" fill="#fff">z</text>
<text x="575.49" y="288.8" text-anchor="middle" font-family='"Liberation Serif", serif' font-weight="bold" font-style="italic" font-size="21" fill="#fff" stroke="#fff" stroke-width="0.3">ϕ</text>
<text x="594.01" y="288.8" text-anchor="middle" font-family='"Liberation Serif", serif' font-weight="bold" font-style="italic" font-size="21" fill="#fff" stroke="#fff" stroke-width="0.3">θ</text>
<text x="612.53" y="288.8" text-anchor="middle" font-family='"Liberation Serif", serif' font-weight="bold" font-style="italic" font-size="21" fill="#fff" stroke="#fff" stroke-width="0.3">ψ</text>
<text x="632.85" y="288.8" text-anchor="middle" font-family='"Liberation Serif", serif' font-weight="bold" font-style="italic" font-size="21" fill="#fff">X</text>
<text x="651.37" y="288.8" text-anchor="middle" font-family='"Liberation Serif", serif' font-weight="bold" font-style="italic" font-size="21" fill="#fff">Y</text>
<text x="669.89" y="288.8" text-anchor="middle" font-family='"Liberation Serif", serif' font-weight="bold" font-style="italic" font-size="21" fill="#fff">Z</text>
<text x="688.41" y="288.8" text-anchor="middle" font-family='"Liberation Serif", serif' font-weight="bold" font-style="italic" font-size="21" fill="#fff">K</text>
<text x="706.93" y="288.8" text-anchor="middle" font-family='"Liberation Serif", serif' font-weight="bold" font-style="italic" font-size="21" fill="#fff">M</text>
<text x="725.45" y="288.8" text-anchor="middle" font-family='"Liberation Serif", serif' font-weight="bold" font-style="italic" font-size="21" fill="#fff">N</text>
<rect x="790.40" y="264.00" width="17.8" height="33.00" fill="url(#hdr)"/>
<rect x="790.40" y="298.50" width="17.8" height="34.50" fill="url(#r1)"/>
<rect x="790.40" y="334.30" width="17.8" height="34.00" fill="#c9c9c9"/>
<rect x="790.40" y="369.00" width="17.8" height="33.60" fill="#b3b3b3"/>
<rect x="790.40" y="404.00" width="17.8" height="34.30" fill="#c2c2c2"/>
<rect x="790.40" y="439.50" width="17.8" height="33.30" fill="#b3b3b3"/>
<text x="797.60" y="288.8" text-anchor="middle" font-family='"Liberation Serif", serif' font-weight="bold" font-style="italic" font-size="23" fill="#fff" stroke="#fff" stroke-width="0.2">ν</text>
<rect x="401.6" y="369.2" width="331.4" height="31.9" fill="none" stroke="#ff0000" stroke-width="2.6"/>
<rect x="401.6" y="405.4" width="331.4" height="31.8" fill="none" stroke="#ff0000" stroke-width="2.6"/>
<rect x="790.5" y="369.4" width="17.8" height="31.7" fill="none" stroke="#4472c4" stroke-width="2.4"/>
<rect x="790.5" y="405.6" width="17.8" height="31.6" fill="none" stroke="#4472c4" stroke-width="2.4"/>
<path d="M734.5 384.8 L784 384.8" stroke="#8fd14f" stroke-width="1.5" stroke-dasharray="4.5 3.5" fill="none"/>
<polygon points="790,384.8 783.5,381.6 783.5,388.0" fill="#8fd14f"/>
<path d="M734.5 421.6 L784 421.6" stroke="#8fd14f" stroke-width="1.5" stroke-dasharray="4.5 3.5" fill="none"/>
<polygon points="790,421.6 783.5,418.4 783.5,424.8" fill="#8fd14f"/>
<text x="759.8" y="407.5" text-anchor="middle" font-family='"Liberation Serif", serif' font-weight="bold" font-size="13.2" fill="#8fd14f">LSTM</text>
<text x="565" y="248.8" text-anchor="middle" font-family='"Liberation Serif", serif' font-weight="bold" font-size="13.3" fill="#ff0000">Input Data</text>
<text x="797.4" y="247" text-anchor="middle" font-family='"Liberation Serif", serif' font-weight="bold" font-size="13.3" fill="#4472c4">Target Output</text>
<text x="364.3" y="391" text-anchor="middle" font-family='"Liberation Serif", serif' font-weight="bold" font-size="12.5" fill="#ff0000">t-1</text>
<text x="363.2" y="426" text-anchor="middle" font-family='"Liberation Serif", serif' font-weight="bold" font-size="12.5" fill="#ff0000">t</text>
<text x="826.5" y="387" text-anchor="middle" font-family='"Liberation Serif", serif' font-weight="bold" font-size="12.5" fill="#4472c4">t-1</text>
<text x="826" y="428" text-anchor="middle" font-family='"Liberation Serif", serif' font-weight="bold" font-size="12.5" fill="#4472c4">t</text>
<path d="M346.8 387 L334.9 387 L334.9 220.5 L353 220.5" stroke="#ff0000" stroke-width="1.3" stroke-dasharray="4.8 3" fill="none"/>
<polygon points="359,220.5 352.5,217.3 352.5,223.7" fill="#ff0000"/>
<path d="M380.3 421.4 L395.8 421.4 L395.8 221.8 L504 221.8" stroke="#ff0000" stroke-width="1.3" stroke-dasharray="4.8 3" fill="none"/>
<polygon points="510,221.8 503.5,218.6 503.5,225" fill="#ff0000"/>
<path d="M844.7 382.7 L849.5 382.7 L849.5 17 L490 17 L490 50" stroke="#4e7cd0" stroke-width="1.2" stroke-dasharray="4.8 3.1" fill="none"/>
<polygon points="490,56.8 486.1,50.6 493.9,50.6" fill="#4e7cd0"/>
<path d="M839.8 423.5 L884.0 423.5 L884.0 45.4 L637.4 45.4 L637.4 50" stroke="#4e7cd0" stroke-width="1.2" stroke-dasharray="4.8 3.1" fill="none"/>
<polygon points="637.4,56.5 633.5,50.3 641.3,50.3" fill="#4e7cd0"/>
</svg>
</body></html>
